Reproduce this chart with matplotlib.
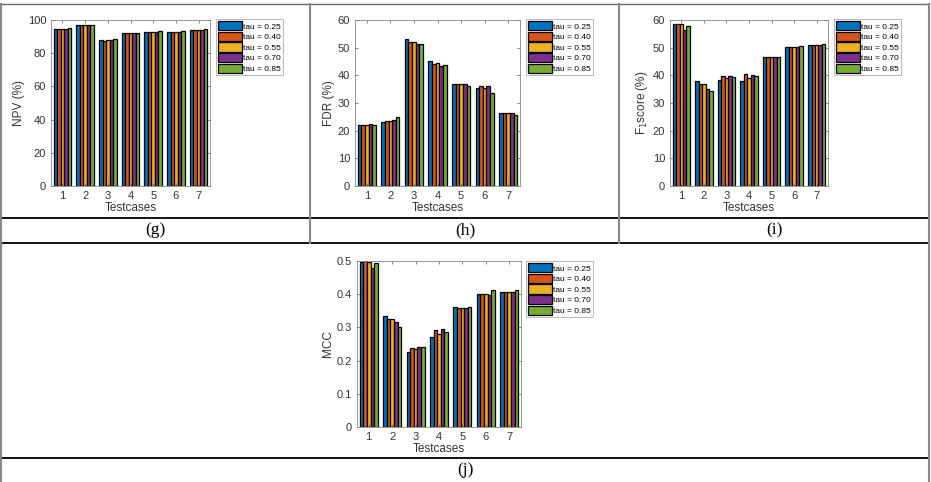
import numpy as np
import matplotlib
matplotlib.use("Agg")
import matplotlib.pyplot as plt
from matplotlib.lines import Line2D

# ---------------- data ----------------
testcases = ["1", "2", "3", "4", "5", "6", "7"]
series_labels = ["tau = 0.25", "tau = 0.40", "tau = 0.55", "tau = 0.70", "tau = 0.85"]

npv = [
    [94.8, 96.8, 88.0, 92.3, 92.8, 93.0, 94.0],
    [94.8, 96.8, 87.5, 92.0, 92.8, 93.0, 93.8],
    [94.8, 96.8, 87.8, 92.0, 92.8, 93.0, 93.8],
    [94.8, 96.8, 88.0, 92.2, 92.8, 93.0, 94.0],
    [95.0, 96.8, 88.3, 92.3, 93.2, 93.5, 94.3],
]
fdr = [
    [22.0, 23.0, 53.0, 45.3, 36.8, 35.5, 26.5],
    [22.0, 23.5, 52.0, 44.0, 36.8, 36.0, 26.5],
    [22.0, 23.5, 52.0, 44.5, 36.8, 35.5, 26.5],
    [22.5, 23.8, 51.5, 43.2, 36.8, 36.0, 26.5],
    [22.0, 25.0, 51.2, 43.8, 36.0, 33.5, 25.7],
]
f1 = [
    [58.5, 37.8, 38.2, 37.8, 46.8, 50.2, 51.0],
    [58.7, 36.7, 39.7, 40.6, 46.8, 50.2, 51.0],
    [58.6, 36.7, 39.2, 39.2, 46.5, 50.2, 50.8],
    [56.5, 35.2, 39.7, 40.3, 46.5, 50.2, 50.8],
    [57.8, 34.2, 39.3, 39.7, 46.5, 50.7, 51.2],
]
mcc = [
    [0.497, 0.333, 0.225, 0.270, 0.360, 0.401, 0.408],
    [0.500, 0.324, 0.238, 0.293, 0.359, 0.401, 0.408],
    [0.498, 0.324, 0.236, 0.279, 0.357, 0.401, 0.406],
    [0.480, 0.315, 0.241, 0.294, 0.357, 0.398, 0.406],
    [0.493, 0.302, 0.240, 0.287, 0.362, 0.413, 0.413],
]
colors = ["#0072BD", "#D95319", "#EDB120", "#7E2F8E", "#77AC30"]

W, H = 931, 482
fig = plt.figure(figsize=(W / 100, H / 100), dpi=100)
plt.rcParams['font.family'] = ['Liberation Sans', 'DejaVu Sans']


def rect(x0, y0, x1, y1):
    return [x0 / W, 1 - y1 / H, (x1 - x0) / W, (y1 - y0) / H]


def panel(box, data, ylabel, ylim, yticks, yticklabels, legbox):
    ax = fig.add_axes(rect(*box))
    x = np.arange(1, len(testcases) + 1)
    bw = 0.154
    handles = []
    for i, vals in enumerate(data):
        h = ax.bar(x + (i - 2) * bw, vals, width=bw, color=colors[i],
                   edgecolor="black", linewidth=0.9, label=series_labels[i])
        handles.append(h)
    ax.set_xlim(0.5, 7.5)
    ax.set_ylim(*ylim)
    ax.set_xticks(x)
    ax.set_xticklabels(testcases)
    ax.set_yticks(yticks)
    ax.set_yticklabels(yticklabels)
    ax.tick_params(direction="in", length=2.5, width=0.5, labelsize=8,
                   colors="#555555", labelcolor="#333333", top=True, right=True)
    for s in ax.spines.values():
        s.set_linewidth(0.6)
        s.set_color("#888888")
    ax.set_xlabel("Testcases", fontsize=8.5, color="#333333", labelpad=1)
    ax.set_ylabel(ylabel, fontsize=8.5, color="#333333", labelpad=2)
    lx0, ly0, lx1, ly1 = legbox
    leg = fig.legend(handles=handles, loc="upper left",
                     bbox_to_anchor=(lx0 / W, 1 - ly0 / H),
                     fontsize=6, frameon=True, fancybox=False,
                     handlelength=2.9, handleheight=1.35, handletextpad=0.1,
                     labelspacing=0.14, borderpad=0.25, borderaxespad=0.0)
    leg.get_frame().set_edgecolor("#999999")
    leg.get_frame().set_linewidth(0.6)
    return ax


panel((51, 20, 210, 186), npv, "NPV (%)", (0, 100), [0, 20, 40, 60, 80, 100],
      ["0", "20", "40", "60", "80", "100"], (216, 19, 278, 76))
panel((355, 20, 520, 186), fdr, "FDR (%)", (0, 60), [0, 10, 20, 30, 40, 50, 60],
      ["0", "10", "20", "30", "40", "50", "60"], (526, 19, 588, 76))
panel((670, 20, 828, 186), f1, r"F$_1$score (%)", (0, 60), [0, 10, 20, 30, 40, 50, 60],
      ["0", "10", "20", "30", "40", "50", "60"], (834, 19, 897, 76))
panel((357, 261, 521, 427), mcc, "MCC", (0, 0.5), [0, 0.1, 0.2, 0.3, 0.4, 0.5],
      ["0", "0.1", "0.2", "0.3", "0.4", "0.5"], (526, 261, 587, 315))

# ---------------- table frame ----------------
def hline(y, x0, x1, color="black", lw=1.3):
    fig.add_artist(Line2D([x0 / W, x1 / W], [1 - y / H, 1 - y / H],
                          color=color, linewidth=lw))


def vline(x, y0, y1, color="#888888", lw=1.5):
    fig.add_artist(Line2D([x / W, x / W], [1 - y0 / H, 1 - y1 / H],
                          color=color, linewidth=lw))


hline(4, 1, 929, color="#666666", lw=1.0)
hline(218, 1, 929)
hline(243, 1, 929)
hline(458, 1, 929)
vline(1, 4, 482)
vline(929, 4, 482)
vline(310, 4, 243)
vline(619, 4, 243)

serif = ['Liberation Serif', 'DejaVu Serif']
for xc, yc, t in [(155, 230, "(g)"), (465, 230, "(h)"), (774, 230, "(i)"), (465, 470, "(j)")]:
    fig.text(xc / W, 1 - yc / H, t, ha="center", va="center", fontsize=12.5,
             family=serif, color="black")

fig.savefig("out.png", dpi=100)
